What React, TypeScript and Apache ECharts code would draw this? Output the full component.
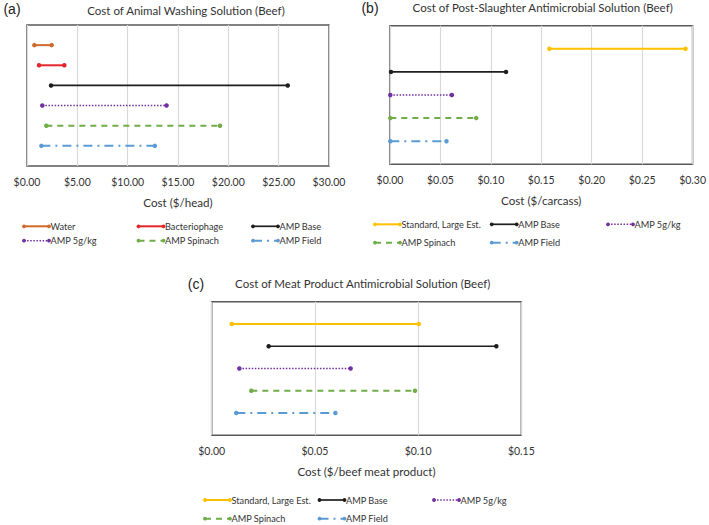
import React, { useEffect, useRef } from "react";
import * as echarts from "echarts";

// ---------- data ----------
const panelATitle = "Cost of Animal Washing Solution (Beef)";
const panelAAxisName = "Cost ($/head)";
const panelANames = ["Water", "Bacteriophage", "AMP Base", "AMP 5g/kg", "AMP Spinach", "AMP Field"];
const panelALow = [0.73, 1.19, 2.39, 1.52, 1.92, 1.43];
const panelAHigh = [2.45, 3.71, 25.9, 13.86, 19.17, 12.7];
const panelATicks = { min: 0, max: 30, interval: 5 };

const panelBTitle = "Cost of Post-Slaughter Antimicrobial Solution (Beef)";
const panelBAxisName = "Cost ($/carcass)";
const panelBNames = ["Standard, Large Est.", "AMP Base", "AMP 5g/kg", "AMP Spinach", "AMP Field"];
const panelBLow = [0.158, 0.001, 0.0003, 0.0003, 0.0003];
const panelBHigh = [0.293, 0.115, 0.0613, 0.0855, 0.056];
const panelBTicks = { min: 0, max: 0.3, interval: 0.05 };

const panelCTitle = "Cost of Meat Product Antimicrobial Solution (Beef)";
const panelCAxisName = "Cost ($/beef meat product)";
const panelCNames = ["Standard, Large Est.", "AMP Base", "AMP 5g/kg", "AMP Spinach", "AMP Field"];
const panelCLow = [0.0097, 0.0276, 0.0134, 0.0192, 0.0119];
const panelCHigh = [0.1003, 0.1379, 0.0673, 0.0985, 0.0599];
const panelCTicks = { min: 0, max: 0.15, interval: 0.05 };

// ---------- styles ----------
const FONT = "Lato, 'Open Sans', sans-serif";
const STYLES: Record<string, { color: string; width: number; dash: number[] | "solid" }> = {
  Water: { color: "#D0692C", width: 2, dash: "solid" },
  Bacteriophage: { color: "#E3262B", width: 2, dash: "solid" },
  "AMP Base": { color: "#1E1E1E", width: 1.7, dash: "solid" },
  "AMP 5g/kg": { color: "#7030A0", width: 1.6, dash: [1.5, 1.6] },
  "AMP Spinach": { color: "#70AD47", width: 2, dash: [6, 5] },
  "AMP Field": { color: "#5B9BD5", width: 2, dash: [9, 5, 2, 5] },
  "Standard, Large Est.": { color: "#FFC000", width: 2, dash: "solid" },
};

type Panel = {
  title: string;
  axisName: string;
  names: string[];
  low: number[];
  high: number[];
  ticks: { min: number; max: number; interval: number };
  grid: { left: number; top: number; width: number; height: number };
  label: string;
  labelPos: [number, number];
  titlePos: [number, number];
  legendCols: number[];
  legendRows: number[];
};

const panels: Panel[] = [
  {
    title: panelATitle, axisName: panelAAxisName, names: panelANames, low: panelALow, high: panelAHigh, ticks: panelATicks,
    grid: { left: 27, top: 25, width: 302, height: 141 },
    label: "(a)", labelPos: [12, 9], titlePos: [186, 10],
    legendCols: [24, 138.5, 253], legendRows: [226.3, 240.7],
  },
  {
    title: panelBTitle, axisName: panelBAxisName, names: panelBNames, low: panelBLow, high: panelBHigh, ticks: panelBTicks,
    grid: { left: 390, top: 25.7, width: 305.3, height: 138.6 },
    label: "(b)", labelPos: [370, 8], titlePos: [542.7, 7.5],
    legendCols: [375, 491.7, 608], legendRows: [224.3, 242.7],
  },
  {
    title: panelCTitle, axisName: panelCAxisName, names: panelCNames, low: panelCLow, high: panelCHigh, ticks: panelCTicks,
    grid: { left: 211.7, top: 301.7, width: 309.6, height: 133.6 },
    label: "(c)", labelPos: [196, 284], titlePos: [362.7, 283.3],
    legendCols: [205, 319.5, 434], legendRows: [500, 518.7],
  },
];

function buildOption() {
  const grids: any[] = [];
  const xAxes: any[] = [];
  const yAxes: any[] = [];
  const series: any[] = [];
  const graphics: any[] = [];

  panels.forEach((p, gi) => {
    grids.push({
      ...p.grid,
      show: true,
      borderColor: "#595959",
      borderWidth: 1.5,
      backgroundColor: "transparent",
      containLabel: false,
    });
    xAxes.push({
      gridIndex: gi,
      type: "value",
      min: p.ticks.min,
      max: p.ticks.max,
      interval: p.ticks.interval,
      axisLine: { show: false },
      axisTick: { show: false },
      splitLine: { show: true, lineStyle: { color: "#D9D9D9", width: 1.2 } },
      axisLabel: {
        margin: 10,
        fontSize: 10.5,
        color: "#333333",
        fontFamily: FONT,
        formatter: (v: number) => "$" + v.toFixed(2),
      },
      name: p.axisName,
      nameLocation: "middle",
      nameGap: 30,
      nameTextStyle: { fontSize: 11.6, color: "#333333", fontFamily: FONT },
    });
    const n = p.names.length;
    yAxes.push({
      gridIndex: gi,
      type: "value",
      min: 0,
      max: n + 1,
      show: false,
      splitLine: { show: false },
    });
    p.names.forEach((name, i) => {
      const st = STYLES[name];
      const row = n - i;
      series.push({
        type: "line",
        name,
        xAxisIndex: gi,
        yAxisIndex: gi,
        data: [
          [p.low[i], row],
          [p.high[i], row],
        ],
        symbol: "circle",
        symbolSize: 4.5,
        showSymbol: true,
        itemStyle: { color: st.color },
        lineStyle: { color: st.color, width: st.width, type: st.dash },
        z: 3,
      });
    });

    graphics.push({
      type: "text",
      x: p.labelPos[0],
      y: p.labelPos[1],
      style: {
        text: p.label,
        fontSize: 14,
        fontFamily: "'Liberation Sans', Arial, sans-serif",
        fill: "#222",
        textAlign: "center",
        textVerticalAlign: "middle",
        align: "center",
        verticalAlign: "middle",
      },
    });
    graphics.push({
      type: "text",
      x: p.titlePos[0],
      y: p.titlePos[1],
      style: {
        text: p.title,
        fontSize: 11.5,
        fontFamily: FONT,
        fill: "#333333",
        textAlign: "center",
        textVerticalAlign: "middle",
        align: "center",
        verticalAlign: "middle",
      },
    });

    p.names.forEach((name, i) => {
      const st = STYLES[name];
      const col = i % 3;
      const r = Math.floor(i / 3);
      const x0 = p.legendCols[col];
      const y0 = p.legendRows[r];
      const L = 25;
      graphics.push({
        type: "group",
        x: x0,
        y: y0,
        children: [
          {
            type: "line",
            shape: { x1: 0, y1: 0, x2: L, y2: 0 },
            style: {
              stroke: st.color,
              lineWidth: st.width,
              lineDash: st.dash === "solid" ? null : st.dash,
            },
          },
          { type: "circle", shape: { cx: 0, cy: 0, r: 1.9 }, style: { fill: st.color } },
          { type: "circle", shape: { cx: L, cy: 0, r: 1.9 }, style: { fill: st.color } },
          {
            type: "text",
            x: L + 1.5,
            y: 0,
            style: {
              text: name,
              fontSize: 9.2,
              fontFamily: FONT,
              fill: "#333333",
              textAlign: "left",
              textVerticalAlign: "middle",
              align: "left",
              verticalAlign: "middle",
            },
          },
        ],
      });
    });
  });

  return {
    animation: false,
    backgroundColor: "#ffffff",
    grid: grids,
    xAxis: xAxes,
    yAxis: yAxes,
    series,
    graphic: graphics,
    tooltip: { show: false },
  };
}

export default function App() {
  const ref = useRef<HTMLDivElement | null>(null);
  useEffect(() => {
    if (!ref.current) return;
    const chart = echarts.init(ref.current, undefined, { renderer: "svg" });
    chart.setOption(buildOption() as any);
    return () => chart.dispose();
  }, []);
  return (
    <div
      ref={ref}
      style={{ position: "absolute", left: 0, top: 0, width: 709, height: 525, background: "#fff" }}
    />
  );
}
